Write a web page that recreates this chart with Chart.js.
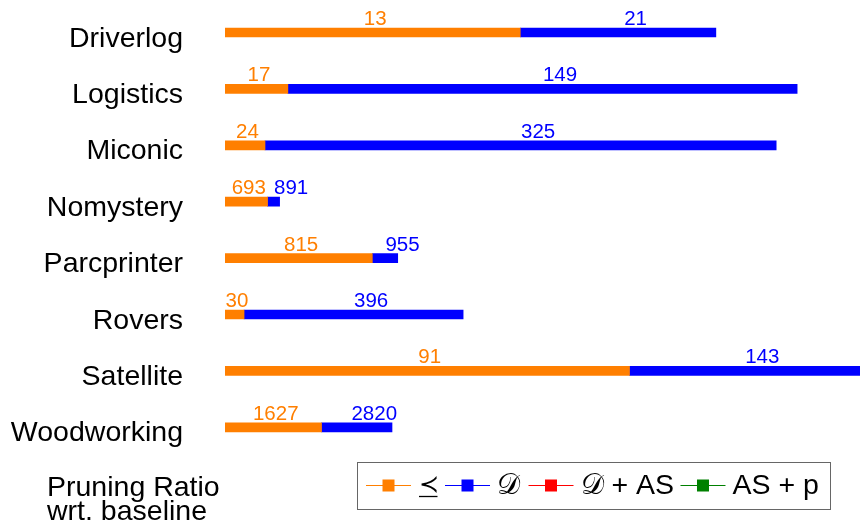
<!DOCTYPE html>
<html>
<head>
<meta charset="utf-8">
<script src="https://cdn.jsdelivr.net/npm/chart.js@4/dist/chart.umd.min.js"></script>
<style>
  html, body { margin: 0; padding: 0; background: #fff; }
  canvas { display: block; }
</style>
</head>
<body>
<canvas id="c" width="860" height="524"></canvas>
<script>
// Domains shown on the category axis
const categories = ['Driverlog', 'Logistics', 'Miconic', 'Nomystery', 'Parcprinter', 'Rovers', 'Satellite', 'Woodworking'];

// Pruning ratio per domain (bar lengths), one array per configuration
const preceqRatio = [0.465, 0.099, 0.063, 0.067, 0.232, 0.030, 0.637, 0.152];
const dRatio      = [0.308, 0.802, 0.805, 0.019, 0.040, 0.345, 0.380, 0.111];
const dAsRatio    = [];
const asPRatio    = [];

// Counts printed above each segment
const preceqCounts = [13, 17, 24, 693, 815, 30, 91, 1627];
const dCounts      = [21, 149, 325, 891, 955, 396, 143, 2820];

// Series names and colours (the first one is "precedes" drawn over a rule)
const seriesNames  = ['\u227A', '\uD835\uDC9F', '\uD835\uDC9F + AS', 'AS + p'];
const seriesColors = ['#ff7f00', '#0000ff', '#ff0000', '#008000'];

const FONT = '"Liberation Sans", Arial, Helvetica, sans-serif';

// Count labels centred over each visible segment
const countLabels = {
  id: 'countLabels',
  afterDatasetsDraw(chart) {
    const ctx = chart.ctx;
    const area = chart.chartArea;
    ctx.save();
    ctx.font = '20.5px ' + FONT;
    ctx.textAlign = 'center';
    ctx.textBaseline = 'alphabetic';
    chart.data.datasets.forEach((ds, di) => {
      if (!ds.counts) return;
      const meta = chart.getDatasetMeta(di);
      meta.data.forEach((bar, i) => {
        const c = ds.counts[i];
        if (c == null) return;
        const p = bar.getProps(['x', 'base', 'y', 'height'], true);
        const left = Math.max(Math.min(p.x, p.base), area.left);
        const right = Math.min(Math.max(p.x, p.base), area.right);
        ctx.fillStyle = ds.backgroundColor;
        ctx.fillText(String(c), (left + right) / 2 + ds.labelShift, p.y - p.height / 2 - 3);
      });
    });
    ctx.restore();
  }
};

// Boxed legend (line + square marker) and the axis caption
const legendBox = {
  id: 'legendBox',
  afterDraw(chart) {
    const ctx = chart.ctx;
    ctx.save();
    // axis caption
    ctx.fillStyle = '#000';
    ctx.font = '28.5px ' + FONT;
    ctx.textAlign = 'left';
    ctx.textBaseline = 'alphabetic';
    ctx.fillText('Pruning Ratio', 47, 496);
    ctx.fillText('wrt. baseline', 47, 520);

    // frame
    ctx.strokeStyle = '#666';
    ctx.lineWidth = 1;
    ctx.strokeRect(357.5, 462.5, 473, 47);

    let x = 366;
    const cy = 485;
    chart.data.datasets.forEach((ds, di) => {
      ctx.strokeStyle = ds.backgroundColor;
      ctx.lineWidth = 1;
      ctx.beginPath();
      ctx.moveTo(x, cy + 0.5);
      ctx.lineTo(x + 45, cy + 0.5);
      ctx.stroke();
      ctx.fillStyle = ds.backgroundColor;
      ctx.fillRect(x + 16.5, cy - 5.5, 12, 12);
      const tx = x + 52;
      ctx.fillStyle = '#000';
      let right;
      if (di === 0) {
        // precedes-or-equal: relation glyph with a rule beneath it
        ctx.font = '24px "DejaVu Sans", ' + FONT;
        const m = ctx.measureText(ds.label);
        const gx = tx - m.actualBoundingBoxLeft;
        ctx.fillText(ds.label, tx + 1 - (m.actualBoundingBoxLeft * 0), 492);
        const w = 18.5;
        ctx.strokeStyle = '#000';
        ctx.lineWidth = 1.3;
        ctx.beginPath();
        ctx.moveTo(tx + 1, 496.5);
        ctx.lineTo(tx + 1 + w, 496.5);
        ctx.stroke();
        right = tx + 1 + w;
      } else {
        ctx.font = '28.5px ' + FONT;
        ctx.fillText(ds.label, tx, 494);
        const m = ctx.measureText(ds.label);
        right = tx + m.actualBoundingBoxRight;
      }
      x = right + 7.5;
    });
    ctx.restore();
  }
};

new Chart(document.getElementById('c'), {
  type: 'bar',
  data: {
    labels: categories,
    datasets: [
      { label: seriesNames[0], data: preceqRatio, backgroundColor: seriesColors[0], counts: preceqCounts, labelShift: 2.5 },
      { label: seriesNames[1], data: dRatio,      backgroundColor: seriesColors[1], counts: dCounts,      labelShift: 17.5 },
      { label: seriesNames[2], data: dAsRatio,    backgroundColor: seriesColors[2] },
      { label: seriesNames[3], data: asPRatio,    backgroundColor: seriesColors[3] }
    ]
  },
  options: {
    indexAxis: 'y',
    responsive: false,
    animation: false,
    devicePixelRatio: 1,
    barThickness: 9,
    borderWidth: 0,
    layout: { padding: { top: 4.3, bottom: 68.5, left: 0, right: 0 } },
    plugins: {
      legend: { display: false },
      tooltip: { enabled: false }
    },
    scales: {
      x: {
        stacked: true,
        display: false,
        min: 0,
        max: 1
      },
      y: {
        stacked: true,
        grid: { display: false, drawTicks: true, tickLength: 42 },
        border: { display: false },
        ticks: {
          padding: 0,
          labelOffset: 6.2,
          color: '#000',
          font: { family: FONT, size: 28.5 }
        },
        afterFit(scale) {
          scale.width = 225;
          scale.paddingTop = 0;
          scale.paddingBottom = 0;
        }
      }
    }
  },
  plugins: [countLabels, legendBox]
});
</script>
</body>
</html>
